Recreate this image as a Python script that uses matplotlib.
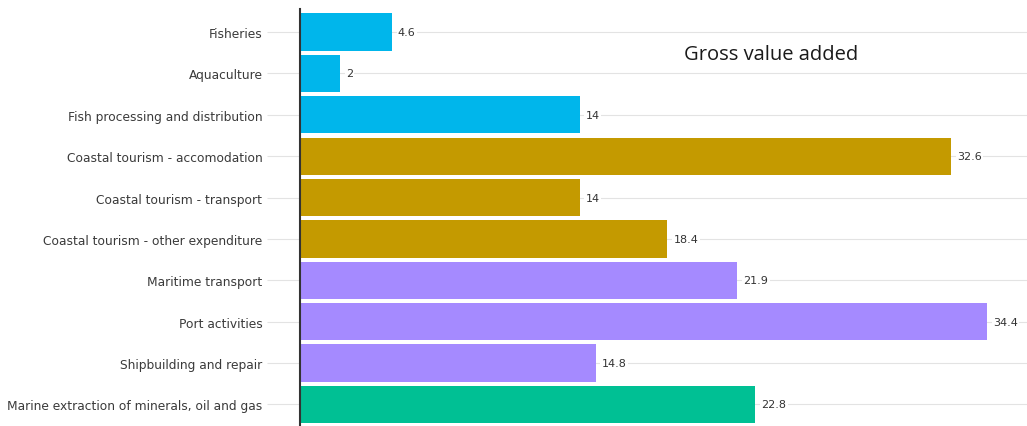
import numpy as np
import matplotlib.pyplot as plt

sectors = ["Fisheries", "Aquaculture", "Fish processing and distribution",
           "Coastal tourism - accomodation", "Coastal tourism - transport",
           "Coastal tourism - other expenditure", "Maritime transport",
           "Port activities", "Shipbuilding and repair",
           "Marine extraction of minerals, oil and gas"]
gva = [4.6, 2, 14, 32.6, 14, 18.4, 21.9, 34.4, 14.8, 22.8]
groups = ["fish", "fish", "fish", "tourism", "tourism", "tourism",
          "shipping", "shipping", "shipping", "extraction"]

group_colors = {"fish": "#00B6EB", "tourism": "#C49A00",
                "shipping": "#A58AFF", "extraction": "#00C094"}

fig = plt.figure(figsize=(10.27, 4.27), dpi=100)
ax = fig.add_axes([300 / 1027, 0, 727 / 1027, 417 / 427])

y = np.arange(len(sectors))
ax.barh(y, gva, height=0.9, color=[group_colors[g] for g in groups], zorder=2)

for yi, v in zip(y, gva):
    ax.text(v + 0.3, yi, f"{v:g}", va="center", ha="left", fontsize=8,
            color="#333333", zorder=3,
            bbox=dict(facecolor="white", edgecolor="none", pad=1))

ax.set_yticks(y)
ax.set_yticklabels(sectors, fontsize=8.8, color="#3a3a3a")
ax.set_ylim(9.52, -0.556)
ax.set_xlim(0, 36.4)
ax.set_xticks([])

ax.grid(axis="y", color="#e3e3e3", linewidth=0.8, zorder=0)
ax.tick_params(axis="y", length=24, color="#e3e3e3", width=0.8, pad=3)

for side in ["top", "right", "bottom"]:
    ax.spines[side].set_visible(False)
ax.spines["left"].set_color("#333333")
ax.spines["left"].set_linewidth(1.5)
ax.spines["left"].set_zorder(4)

fig.text(684 / 1027, 1 - 55 / 427, "Gross value added", family="Open Sans",
         fontsize=14.5, va="center", ha="left", color="#1a1a1a")

fig.savefig("out.png", dpi=100)
